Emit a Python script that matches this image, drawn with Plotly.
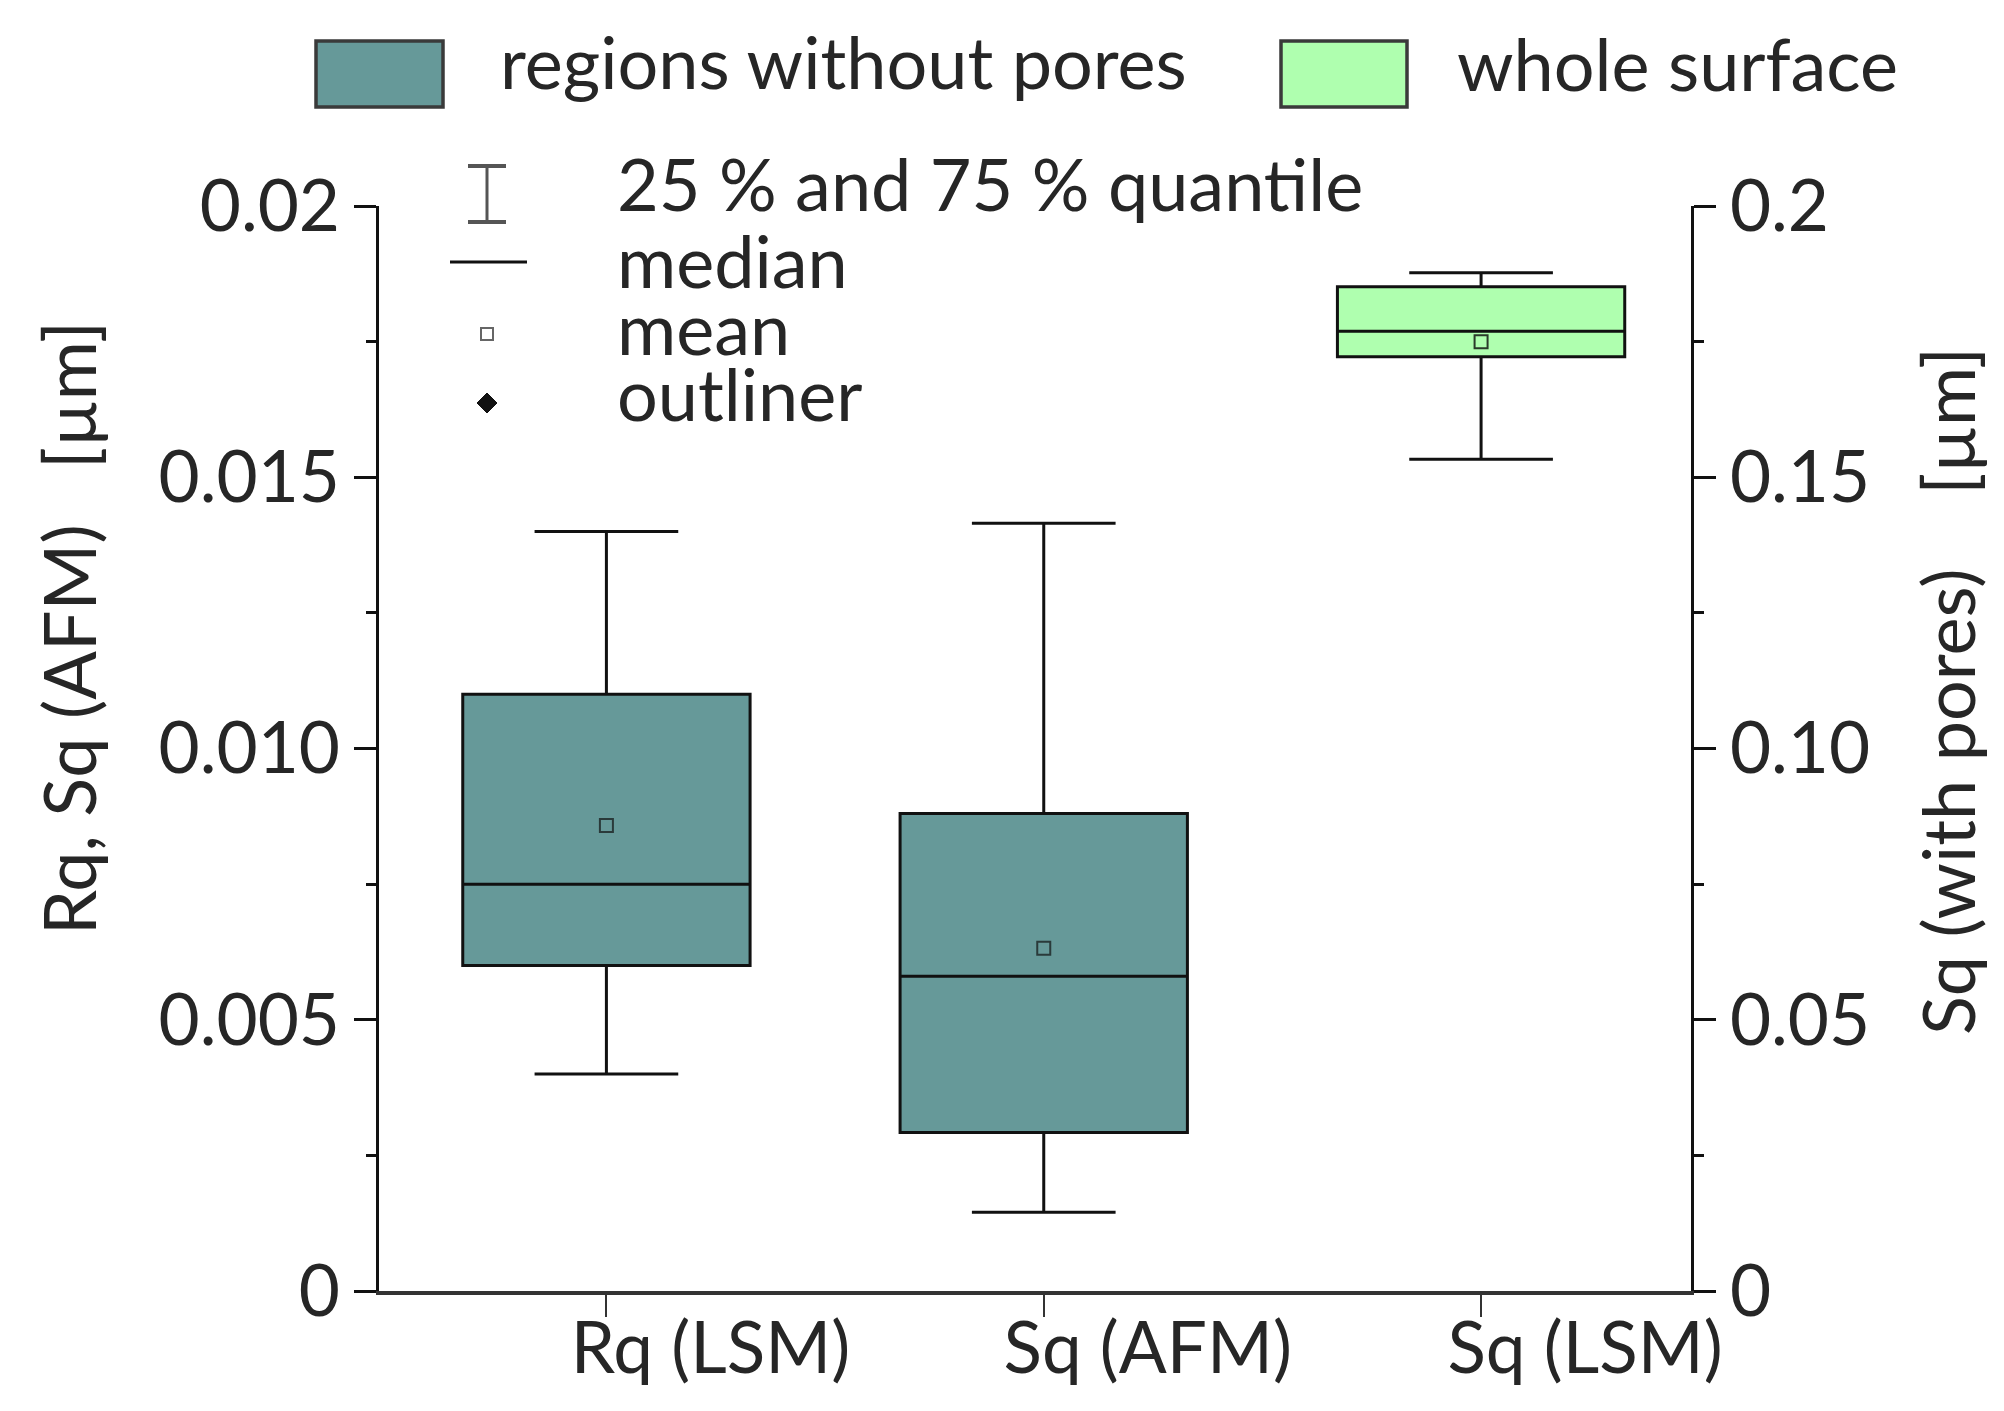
import plotly.graph_objects as go

# ---------------- data ----------------
categories = ["Rq (LSM)", "Sq (AFM)", "Sq (LSM)"]

# regions without pores (left axis, µm)
wo_cats = ["Rq (LSM)", "Sq (AFM)"]
wo_lower = [0.0040, 0.00145]
wo_q1 = [0.0060, 0.00292]
wo_median = [0.0075, 0.0058]
wo_q3 = [0.0110, 0.0088]
wo_upper = [0.0140, 0.01415]
wo_mean = [0.00858, 0.00632]

# whole surface (right axis, µm)
ws_cats = ["Sq (LSM)"]
ws_lower = [0.1533]
ws_q1 = [0.1722]
ws_median = [0.1769]
ws_q3 = [0.1851]
ws_upper = [0.1877]
ws_mean = [0.1750]

left_tickvals = [0, 0.005, 0.010, 0.015, 0.02]
left_ticktext = ["0", "0.005", "0.010", "0.015", "0.02"]
right_tickvals = [0, 0.05, 0.10, 0.15, 0.2]
right_ticktext = ["0", "0.05", "0.10", "0.15", "0.2"]

legend_labels = ["regions without pores", "whole surface"]
key_labels = ["25 % and 75 % quantile", "median", "mean", "outliner"]
left_title = "Rq, Sq (AFM)\u00a0\u00a0\u00a0[µm]"
right_title = "Sq (with pores)\u00a0\u00a0\u00a0\u00a0[µm]"

# ---------------- styling ----------------
W, H = 2004, 1411
L, R, T, B = 371, 321, 198, 128
PW, PH = W - L - R, H - T - B
FONT = "Lato"
TXT = "#262626"
TEAL = "#669999"
GREEN = "#AFFFAF"
EDGE = "#111111"


def px(x):
    return (x - L) / PW


def py(y):
    return (H - B - y) / PH


fig = go.Figure()

fig.add_trace(go.Box(
    x=wo_cats, q1=wo_q1, median=wo_median, q3=wo_q3,
    lowerfence=wo_lower, upperfence=wo_upper,
    fillcolor=TEAL, line=dict(color=EDGE, width=3),
    width=0.657, whiskerwidth=0.5, boxpoints=False,
    yaxis="y", showlegend=False, name=legend_labels[0]))

fig.add_trace(go.Box(
    x=ws_cats, q1=ws_q1, median=ws_median, q3=ws_q3,
    lowerfence=ws_lower, upperfence=ws_upper,
    fillcolor=GREEN, line=dict(color=EDGE, width=3),
    width=0.657, whiskerwidth=0.5, boxpoints=False,
    yaxis="y2", showlegend=False, name=legend_labels[1]))

fig.add_trace(go.Scatter(
    x=wo_cats, y=wo_mean, mode="markers", yaxis="y",
    marker=dict(symbol="square-open", size=13, color="#2a3a3a",
                line=dict(width=2)), showlegend=False))
fig.add_trace(go.Scatter(
    x=ws_cats, y=ws_mean, mode="markers", yaxis="y2",
    marker=dict(symbol="square-open", size=13, color="#2a3a2a",
                line=dict(width=2)), showlegend=False))

shapes = []
annotations = []

# top legend swatches
for (x0, x1, col, lab, tx, ty) in [(308, 435, TEAL, legend_labels[0], 490, 53),
                                   (1273, 1399, GREEN, legend_labels[1], 1447, 55)]:
    shapes.append(dict(type="rect", xref="paper", yref="paper",
                       x0=px(x0), x1=px(x1), y0=py(99), y1=py(33),
                       fillcolor=col, line=dict(color="#3a3a3a", width=3.5)))
    annotations.append(dict(text=lab, xref="paper", yref="paper",
                            x=px(tx), y=py(ty), xanchor="left", yanchor="middle",
                            showarrow=False, font=dict(family=FONT, size=72, color=TXT)))

# inner key
kx = 479
shapes.append(dict(type="line", xref="paper", yref="paper",
                   x0=px(kx), x1=px(kx), y0=py(158), y1=py(214),
                   line=dict(color="#555555", width=3)))
for yy in (158, 214):
    shapes.append(dict(type="line", xref="paper", yref="paper",
                       x0=px(460), x1=px(498), y0=py(yy), y1=py(yy),
                       line=dict(color="#555555", width=4)))
shapes.append(dict(type="line", xref="paper", yref="paper",
                   x0=px(442), x1=px(519), y0=py(254), y1=py(254),
                   line=dict(color="#111111", width=3)))
shapes.append(dict(type="rect", xref="paper", yref="paper",
                   x0=px(kx - 6), x1=px(kx + 6), y0=py(332), y1=py(320),
                   line=dict(color="#666666", width=2), fillcolor="white"))
d = 10
cy = 395
path = "M {} {} L {} {} L {} {} L {} {} Z".format(
    px(kx), py(cy - d), px(kx + d), py(cy), px(kx), py(cy + d), px(kx - d), py(cy))
shapes.append(dict(type="path", xref="paper", yref="paper", path=path,
                   fillcolor="#111111", line=dict(color="#111111", width=1)))

for lab, yy in zip(key_labels, [175, 252, 319, 385]):
    annotations.append(dict(text=lab, xref="paper", yref="paper",
                            x=px(607), y=py(yy), xanchor="left", yanchor="middle",
                            showarrow=False, font=dict(family=FONT, size=72, color=TXT)))

# axis titles
annotations.append(dict(text=left_title, xref="paper", yref="paper",
                        x=px(60), y=py(620), textangle=-90, showarrow=False,
                        xanchor="center", yanchor="middle",
                        font=dict(family=FONT, size=72, color=TXT)))
annotations.append(dict(text=right_title, xref="paper", yref="paper",
                        x=px(1939), y=py(683), textangle=-90, showarrow=False,
                        xanchor="center", yanchor="middle",
                        font=dict(family=FONT, size=72, color=TXT)))

fig.update_layout(
    width=W, height=H,
    margin=dict(l=L, r=R, t=T, b=B, autoexpand=False),
    paper_bgcolor="white", plot_bgcolor="white",
    boxmode="overlay",
    font=dict(family=FONT, size=71, color=TXT),
    xaxis=dict(type="category", categoryorder="array", categoryarray=categories,
               range=[-0.52, 2.48], showline=True, linecolor="#333333", linewidth=3.5,
               ticks="outside", ticklen=22, tickwidth=2, tickcolor="#333333",
               ticklabelshift=104, ticklabelstandoff=-29,
               showgrid=False, zeroline=False,
               tickfont=dict(family=FONT, size=71, color=TXT)),
    yaxis=dict(range=[0, 0.02], tickvals=left_tickvals, ticktext=left_ticktext,
               showline=True, linecolor="#111111", linewidth=2.5,
               ticks="outside", ticklen=22, tickwidth=3, tickcolor="#111111",
               minor=dict(ticks="outside", ticklen=10, tickwidth=2.5, dtick=0.0025,
                          tickcolor="#111111", showgrid=False),
               showgrid=False, zeroline=False,
               tickfont=dict(family=FONT, size=71, color=TXT)),
    yaxis2=dict(range=[0, 0.2], tickvals=right_tickvals, ticktext=right_ticktext,
                overlaying="y", side="right", anchor="x",
                showline=True, linecolor="#111111", linewidth=2.5,
                ticks="outside", ticklen=22, tickwidth=3, tickcolor="#111111",
                minor=dict(ticks="outside", ticklen=10, tickwidth=2.5, dtick=0.025,
                           tickcolor="#111111", showgrid=False),
                showgrid=False, zeroline=False,
                tickfont=dict(family=FONT, size=71, color=TXT)),
    shapes=shapes,
    annotations=annotations,
)

fig.write_html("out.html")
